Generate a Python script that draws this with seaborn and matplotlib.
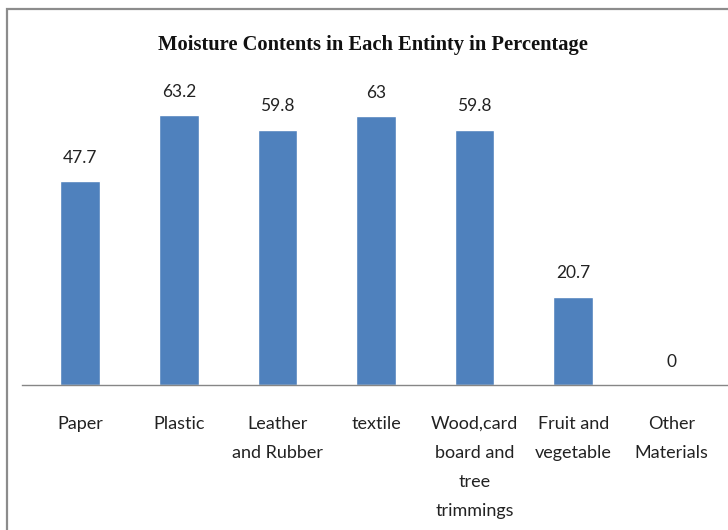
import matplotlib
matplotlib.use("Agg")
import matplotlib.pyplot as plt
import seaborn as sns
import pandas as pd
from matplotlib.patches import Rectangle

# Data
categories = ["Paper", "Plastic", "Leather\nand Rubber", "textile",
              "Wood,card\nboard and\ntree\ntrimmings", "Fruit and\nvegetable",
              "Other\nMaterials"]
moisture = [47.7, 63.2, 59.8, 63, 59.8, 20.7, 0]
title = "Moisture Contents in Each Entinty in Percentage"

df = pd.DataFrame({"material": categories, "moisture": moisture})

sns.set_theme(style="white")
plt.rcParams["font.family"] = ["Lato", "DejaVu Sans"]

fig = plt.figure(figsize=(7.28, 5.30), dpi=100)
ax = fig.add_axes([22 / 728, 145 / 530, 706 / 728, 299 / 530])

sns.barplot(data=df, x="material", y="moisture", color="#4F81BD",
            width=0.4, saturation=1, ax=ax)

ax.bar_label(ax.containers[0], labels=[f"{v:g}" for v in moisture],
             padding=11, fontsize=12.5, color="#222222")

ax.set_xlim(-0.59, 6.57)
ax.set_ylim(0, 70)
ax.set_xlabel("")
ax.set_ylabel("")
ax.set_yticks([])
ax.set_xticks(range(len(categories)))
ax.set_xticklabels(categories, linespacing=2.0, va="top")
ax.tick_params(axis="x", length=0, pad=22, labelsize=13, labelcolor="#222222")

for s in ["left", "top", "right"]:
    ax.spines[s].set_visible(False)
ax.spines["bottom"].set_color("#868686")
ax.spines["bottom"].set_linewidth(1)

# outer chart border (right and bottom cut off in the reference)
fig.patches.append(Rectangle((7 / 728, -0.2), 1.2, 1.2 - 9 / 530,
                             transform=fig.transFigure, fill=False,
                             edgecolor="#8c8c8c", linewidth=1.6))

fig.text(373 / 728, 1 - 45 / 530, title, ha="center", va="center",
         fontsize=14.8, fontweight="bold", family="Liberation Serif",
         color="#111111")

fig.savefig("out.png", dpi=100)
